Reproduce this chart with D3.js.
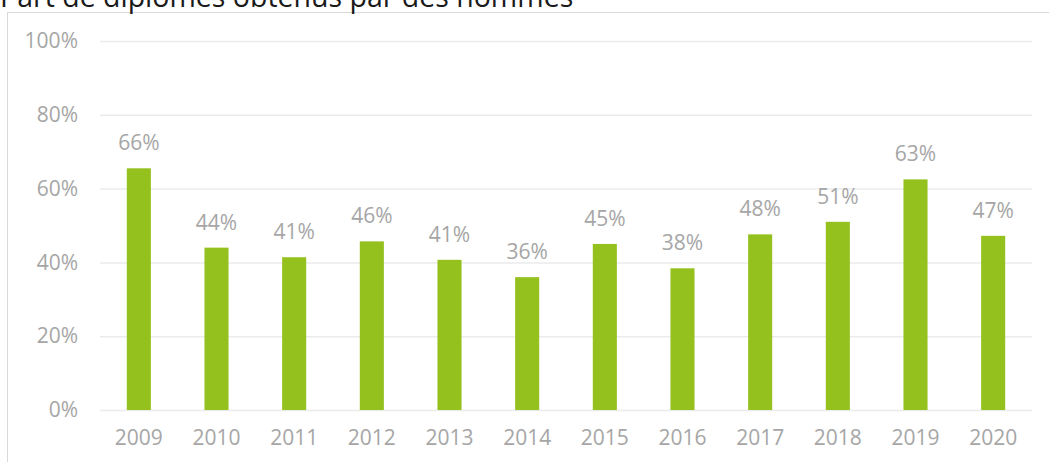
<!DOCTYPE html>
<html>
<head>
<meta charset="utf-8">
<script src="https://cdn.jsdelivr.net/npm/d3@7"></script>
<style>
  body { margin: 0; background: #fff; }
  text { font-family: "Open Sans", sans-serif; }
</style>
</head>
<body>
<div id="chart"></div>
<script>
var years = ["2009", "2010", "2011", "2012", "2013", "2014", "2015", "2016", "2017", "2018", "2019", "2020"];
var shares = [0.655, 0.44, 0.414, 0.457, 0.407, 0.36, 0.45, 0.384, 0.476, 0.51, 0.625, 0.472];
var y_ticks = [0, 0.2, 0.4, 0.6, 0.8, 1];
var title = "Part de diplômés obtenus par des hommes";

var svgWidth = 1049;
var svgHeight = 462;

var svg = d3.select("#chart").append("svg")
    .attr("width", svgWidth)
    .attr("height", svgHeight);

// chart frame
svg.append("rect")
    .attr("x", 7.5)
    .attr("y", 12.5)
    .attr("width", 1060)
    .attr("height", 470)
    .attr("fill", "none")
    .attr("stroke", "#d9d9d9");

svg.append("text")
    .attr("x", 0)
    .attr("y", 7)
    .attr("font-size", "28.5px")
    .attr("fill", "#1a1a1a")
    .text(title);

var x_scale = d3.scaleBand()
    .domain(years)
    .range([100, 1032])
    .paddingInner(0.69)
    .paddingOuter(0.345);

var y_scale = d3.scaleLinear()
    .domain([0, 1])
    .range([410, 41]);

var format = d3.format(".0%");

// gridlines + y labels
var y_axis = svg.append("g")
    .attr("transform", "translate(1032, 0)")
    .call(d3.axisLeft(y_scale)
        .tickValues(y_ticks)
        .tickSize(932)
        .tickPadding(22)
        .tickFormat(format));

y_axis.select(".domain").remove();
y_axis.selectAll("line")
    .attr("stroke", "#ebebeb")
    .attr("stroke-width", 1.5);
y_axis.selectAll("text")
    .attr("fill", "#a6a6a6")
    .attr("font-size", "21px")
    .attr("font-family", "Open Sans, sans-serif");

var x_axis = svg.append("g")
    .attr("transform", "translate(0, 410)")
    .call(d3.axisBottom(x_scale).tickSize(0).tickPadding(20));

x_axis.select(".domain").remove();
x_axis.selectAll("text")
    .attr("fill", "#a6a6a6")
    .attr("font-size", "21px")
    .attr("font-family", "Open Sans, sans-serif");

var bars = svg.selectAll(".bar")
    .data(shares)
    .enter()
    .append("rect")
    .classed("bar", true)
    .attr("x", (d, i) => x_scale(years[i]))
    .attr("y", d => y_scale(d))
    .attr("width", x_scale.bandwidth())
    .attr("height", d => y_scale(0) - y_scale(d))
    .attr("fill", "#95c11f");

svg.selectAll(".label")
    .data(shares)
    .enter()
    .append("text")
    .classed("label", true)
    .attr("x", (d, i) => x_scale(years[i]) + x_scale.bandwidth() / 2)
    .attr("y", d => y_scale(d) - 18)
    .attr("text-anchor", "middle")
    .attr("font-size", "21px")
    .attr("fill", "#a6a6a6")
    .text(d => format(d));
</script>
</body>
</html>
